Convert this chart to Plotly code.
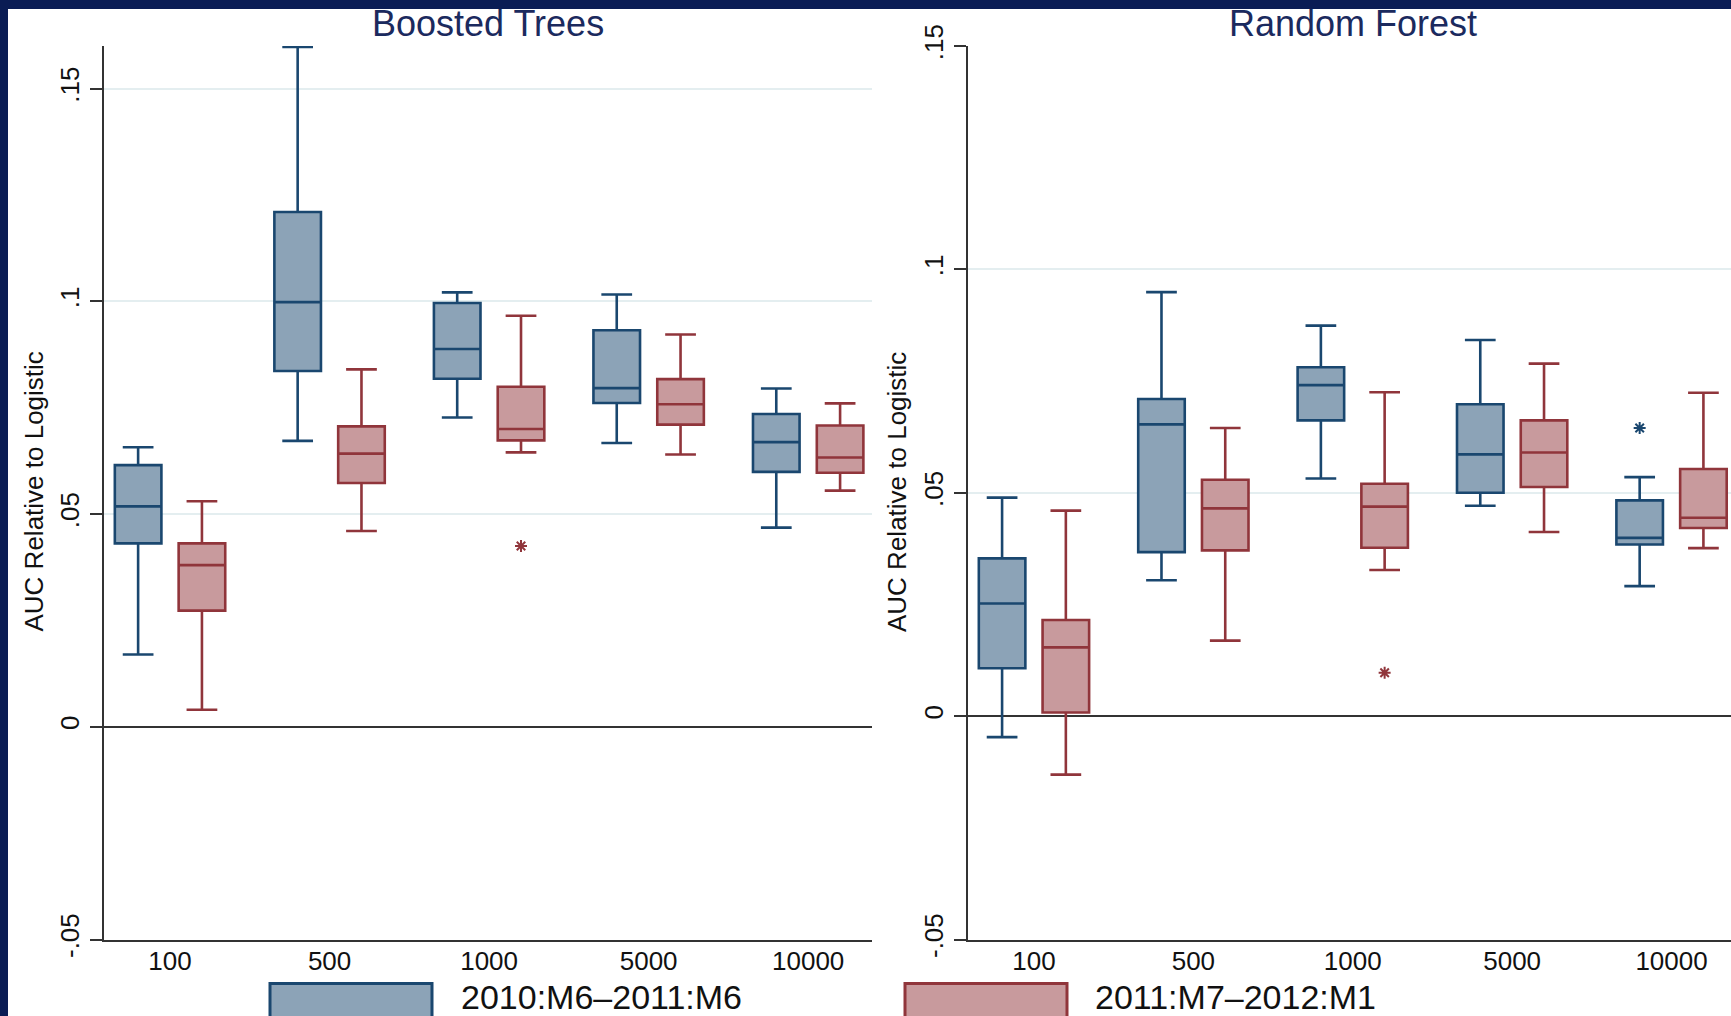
import plotly.graph_objects as go

# Training-sample sizes on the x axis
sizes = ["100", "500", "1000", "5000", "10000"]

# Boosted Trees, 2010:M6-2011:M6
bt_a_low = [0.0170, 0.0672, 0.0727, 0.0667, 0.0468]
bt_a_q1 = [0.0431, 0.0836, 0.0818, 0.0761, 0.0599]
bt_a_med = [0.0518, 0.0998, 0.0888, 0.0796, 0.0669]
bt_a_q3 = [0.0615, 0.1210, 0.0996, 0.0932, 0.0735]
bt_a_high = [0.0657, 0.1598, 0.1021, 0.1016, 0.0795]
bt_a_out_size = []
bt_a_out_val = []

# Boosted Trees, 2011:M7-2012:M1
bt_b_low = [0.0040, 0.0460, 0.0645, 0.0640, 0.0555]
bt_b_q1 = [0.0273, 0.0573, 0.0673, 0.0710, 0.0597]
bt_b_med = [0.0380, 0.0642, 0.0700, 0.0758, 0.0633]
bt_b_q3 = [0.0431, 0.0706, 0.0799, 0.0817, 0.0708]
bt_b_high = [0.0530, 0.0840, 0.0966, 0.0922, 0.0760]
bt_b_out_size = ["1000"]
bt_b_out_val = [0.0425]

# Random Forest, 2010:M6-2011:M6
rf_a_low = [-0.0047, 0.0304, 0.0532, 0.0471, 0.0291]
rf_a_q1 = [0.0107, 0.0367, 0.0662, 0.0500, 0.0384]
rf_a_med = [0.0252, 0.0653, 0.0741, 0.0586, 0.0399]
rf_a_q3 = [0.0353, 0.0710, 0.0781, 0.0698, 0.0483]
rf_a_high = [0.0489, 0.0949, 0.0874, 0.0842, 0.0535]
rf_a_out_size = ["10000"]
rf_a_out_val = [0.0645]

# Random Forest, 2011:M7-2012:M1
rf_b_low = [-0.0131, 0.0169, 0.0327, 0.0412, 0.0376]
rf_b_q1 = [0.0008, 0.0371, 0.0377, 0.0513, 0.0421]
rf_b_med = [0.0154, 0.0465, 0.0469, 0.0590, 0.0444]
rf_b_q3 = [0.0215, 0.0529, 0.0520, 0.0662, 0.0553]
rf_b_high = [0.0460, 0.0645, 0.0725, 0.0789, 0.0724]
rf_b_out_size = ["1000"]
rf_b_out_val = [0.0097]

period_names = ["2010:M6\u20132011:M6", "2011:M7\u20132012:M1"]
panel_titles = ["Boosted Trees", "Random Forest"]
y_title = "AUC Relative to Logistic"
ytick_vals = [-0.05, 0, 0.05, 0.1, 0.15]
ytick_text = ["-.05", "0", ".05", ".1", ".15"]

NAVY = "#1a476f"
NAVY_FILL = "#8ca3b7"
MAROON = "#90353b"
MAROON_FILL = "#c89a9d"
AXIS = "#333333"
GRID = "#e4eef0"
FONT = "Liberation Sans, Arial, sans-serif"

W, H = 1731, 1016
pos = list(range(len(sizes)))
SHIFT = 0.2
BOX_W = 0.292

fig = go.Figure()


def add_series(low, q1, med, q3, high, out_size, out_val, line, fill, shift, xa, ya):
    fig.add_trace(go.Box(
        x=[p + shift for p in pos], lowerfence=low, q1=q1, median=med, q3=q3,
        upperfence=high, width=BOX_W, whiskerwidth=0.66, boxpoints=False,
        fillcolor=fill, line=dict(color=line, width=2.6),
        xaxis=xa, yaxis=ya, showlegend=False, hoverinfo="skip"))
    if out_val:
        fig.add_trace(go.Scatter(
            x=[sizes.index(s) + shift for s in out_size], y=out_val, mode="markers",
            marker=dict(symbol="asterisk-open", size=10, color=line,
                        line=dict(color=line, width=2)),
            xaxis=xa, yaxis=ya, showlegend=False, hoverinfo="skip"))


add_series(bt_a_low, bt_a_q1, bt_a_med, bt_a_q3, bt_a_high, bt_a_out_size, bt_a_out_val,
           NAVY, NAVY_FILL, -SHIFT, "x", "y")
add_series(bt_b_low, bt_b_q1, bt_b_med, bt_b_q3, bt_b_high, bt_b_out_size, bt_b_out_val,
           MAROON, MAROON_FILL, SHIFT, "x", "y")
add_series(rf_a_low, rf_a_q1, rf_a_med, rf_a_q3, rf_a_high, rf_a_out_size, rf_a_out_val,
           NAVY, NAVY_FILL, -SHIFT, "x2", "y2")
add_series(rf_b_low, rf_b_q1, rf_b_med, rf_b_q3, rf_b_high, rf_b_out_size, rf_b_out_val,
           MAROON, MAROON_FILL, SHIFT, "x2", "y2")

y_dom = [1 - 939.5 / H, 1 - 46 / H]


def xaxis(domain, rng, anchor):
    return dict(domain=domain, range=rng, anchor=anchor, tickvals=pos, ticktext=sizes,
                ticks="", showgrid=False, zeroline=False, showline=True,
                linecolor=AXIS, linewidth=2.2, automargin=False, ticklabelstandoff=-3,
                tickfont=dict(family=FONT, size=26, color="#111111"))


def yaxis(rng, anchor):
    return dict(domain=y_dom, range=rng, anchor=anchor, tickvals=ytick_vals,
                ticktext=ytick_text, tickangle=-90, ticks="outside", ticklen=12,
                tickwidth=1.6, tickcolor=AXIS, showline=True, linecolor=AXIS,
                linewidth=1.6, showgrid=True, gridcolor=GRID, gridwidth=1.6,
                zeroline=True, zerolinecolor=AXIS, zerolinewidth=1.6, automargin=False,
                tickfont=dict(family=FONT, size=26, color="#111111"))


fig.update_layout(
    template="none",
    width=W, height=H, autosize=False,
    margin=dict(l=0, r=0, t=0, b=0, pad=0, autoexpand=False),
    paper_bgcolor="white", plot_bgcolor="white",
    xaxis=xaxis([103.5 / W, 872 / W], [-0.417, 4.40], "y"),
    yaxis=yaxis([-0.05, 0.16], "x"),
    xaxis2=xaxis([967.5 / W, 1.0], [-0.417, 4.373], "y2"),
    yaxis2=yaxis([-0.05, 0.15], "x2"),
)

annotations = []
# panel titles
for title, cx in zip(panel_titles, [488, 1353]):
    annotations.append(dict(text=title, x=cx / W, y=1 - 24 / H, xref="paper", yref="paper",
                            xanchor="center", yanchor="middle", showarrow=False,
                            font=dict(family=FONT, size=36, color="#1b2a5e")))
# y-axis titles
for cx in [33.5, 897]:
    annotations.append(dict(text=y_title, x=cx / W, y=1 - 492 / H, xref="paper", yref="paper",
                            xanchor="center", yanchor="middle", textangle=-90, showarrow=False,
                            font=dict(family=FONT, size=26, color="#111111")))

shapes = []
# legend keys and labels
for name, line, fill, kx, tx in zip(period_names, [NAVY, MAROON], [NAVY_FILL, MAROON_FILL],
                                    [270, 905], [459, 1093]):
    shapes.append(dict(type="rect", xref="paper", yref="paper",
                       x0=kx / W, x1=(kx + 162) / W, y0=1 - 1040 / H, y1=1 - 983.5 / H,
                       fillcolor=fill, line=dict(color=line, width=3)))
    annotations.append(dict(text=name, x=tx / W, y=1 - 997 / H, xref="paper", yref="paper",
                            xanchor="left", yanchor="middle", showarrow=False,
                            font=dict(family=FONT, size=34, color="#111111")))

# dark frame along the top and left edges
shapes.append(dict(type="rect", xref="paper", yref="paper", x0=0, x1=1, y0=1 - 9 / H, y1=1,
                   fillcolor="#0a1c54", line=dict(width=0), layer="above"))
shapes.append(dict(type="rect", xref="paper", yref="paper", x0=0, x1=8 / W, y0=0, y1=1,
                   fillcolor="#0a1c54", line=dict(width=0), layer="above"))

fig.update_layout(annotations=annotations, shapes=shapes)

fig.write_html("out.html")
